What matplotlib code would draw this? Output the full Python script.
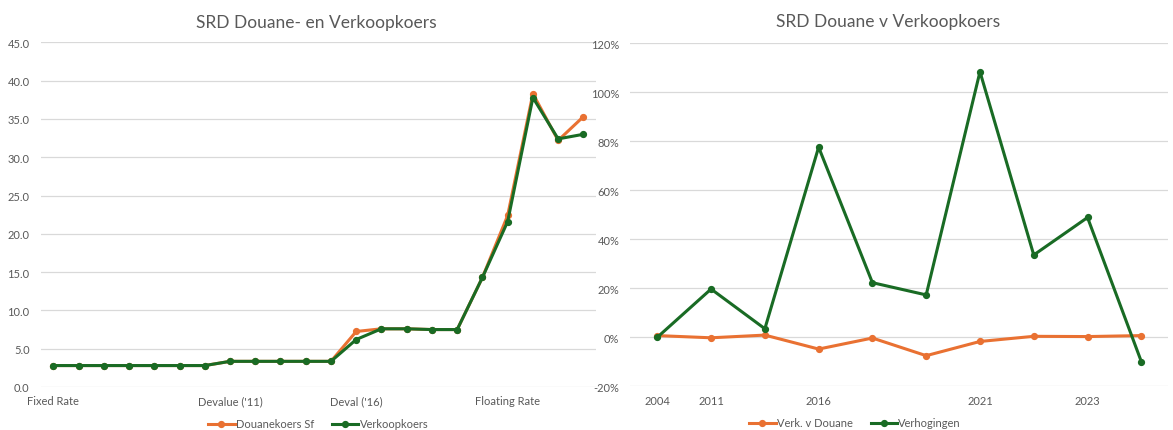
import matplotlib.pyplot as plt
from matplotlib.ticker import FuncFormatter, MultipleLocator

plt.rcParams['font.family'] = ['Lato', 'DejaVu Sans']

# Left chart: exchange rates per period
left_labels = ["Fixed Rate", "", "", "", "", "", "", "Devalue ('11)", "", "", "", "",
               "Deval ('16)", "", "", "", "", "", "Floating Rate", "", "", ""]
douanekoers = [2.8, 2.8, 2.8, 2.8, 2.8, 2.8, 2.8, 3.35, 3.35, 3.35, 3.35, 3.35,
               7.25, 7.6, 7.6, 7.5, 7.5, 14.3, 22.4, 38.3, 32.2, 35.3]
verkoopkoers = [2.8, 2.8, 2.8, 2.8, 2.8, 2.8, 2.8, 3.35, 3.35, 3.35, 3.35, 3.35,
                6.2, 7.6, 7.6, 7.5, 7.5, 14.3, 21.6, 37.8, 32.4, 33.0]

# Right chart: ratios
right_labels = ["2004", "2011", "", "2016", "", "", "2021", "", "2023", ""]
verk_v_douane = [0.007, -0.002, 0.009, -0.048, -0.003, -0.075, -0.017, 0.004, 0.003, 0.007]
verhogingen = [0.0, 0.197, 0.035, 0.776, 0.223, 0.173, 1.084, 0.336, 0.489, -0.099]

ORANGE = "#E97132"
GREEN = "#196B24"
GRAY = "#595959"
GRID = "#D9D9D9"

W, H = 1173, 431
fig = plt.figure(figsize=(W / 100, H / 100), dpi=100)


def px_axes(x0, x1, ytop, ybot):
    return fig.add_axes([x0 / W, (H - ybot) / H, (x1 - x0) / W, (ybot - ytop) / H])


def style(ax):
    for s in ax.spines.values():
        s.set_visible(False)
    ax.grid(axis="y", color=GRID, linewidth=0.9)
    ax.set_axisbelow(True)
    ax.tick_params(axis="both", length=0, labelsize=8, labelcolor=GRAY)
    ax.tick_params(axis="y", pad=8)
    ax.tick_params(axis="x", pad=6)


# ---- left
ax1 = px_axes(40.7, 596, 43.4, 388)
x1 = list(range(len(left_labels)))
ax1.plot(x1, douanekoers, color=ORANGE, lw=2.2, marker="o", ms=4.2, label="Douanekoers Sf")
ax1.plot(x1, verkoopkoers, color=GREEN, lw=2.2, marker="o", ms=4.2, label="Verkoopkoers")
ax1.set_xlim(-0.5, len(left_labels) - 0.5)
ax1.set_ylim(0, 45)
ax1.yaxis.set_major_locator(MultipleLocator(5))
ax1.yaxis.set_major_formatter(FuncFormatter(lambda v, p: f"{v:.1f}"))
ax1.set_xticks(x1)
ax1.set_xticklabels(left_labels)
style(ax1)
fig.text(316 / W, 1 - 23 / H, "SRD Douane- en Verkoopkoers", ha="center", va="center",
         fontsize=12.5, color=GRAY)
ax1.legend(loc="center", bbox_to_anchor=((318 - 40.7) / 555.3, -(425 - 388) / 344.6),
           ncol=2, frameon=False, fontsize=8, labelcolor=GRAY, handlelength=2.4,
           handletextpad=0.1, columnspacing=1.6)

# ---- right
ax2 = px_axes(630.4, 1168.2, 44.3, 387.3)
x2 = list(range(len(right_labels)))
ax2.plot(x2, verk_v_douane, color=ORANGE, lw=2.2, marker="o", ms=4.2, label="Verk. v Douane")
ax2.plot(x2, verhogingen, color=GREEN, lw=2.2, marker="o", ms=4.2, label="Verhogingen")
ax2.set_xlim(-0.5, len(right_labels) - 0.5)
ax2.set_ylim(-0.2, 1.2)
ax2.yaxis.set_major_locator(MultipleLocator(0.2))
ax2.yaxis.set_major_formatter(FuncFormatter(lambda v, p: f"{round(v * 100):d}%"))
ax2.set_xticks(x2)
ax2.set_xticklabels(right_labels)
style(ax2)
fig.text(888 / W, 1 - 22 / H, "SRD Douane v Verkoopkoers", ha="center", va="center",
         fontsize=12.5, color=GRAY)
ax2.legend(loc="center", bbox_to_anchor=((855 - 630.4) / 537.8, -(424 - 387.3) / 343),
           ncol=2, frameon=False, fontsize=8, labelcolor=GRAY, handlelength=2.4,
           handletextpad=0.1, columnspacing=1.6)

fig.savefig("out.png", dpi=100)
